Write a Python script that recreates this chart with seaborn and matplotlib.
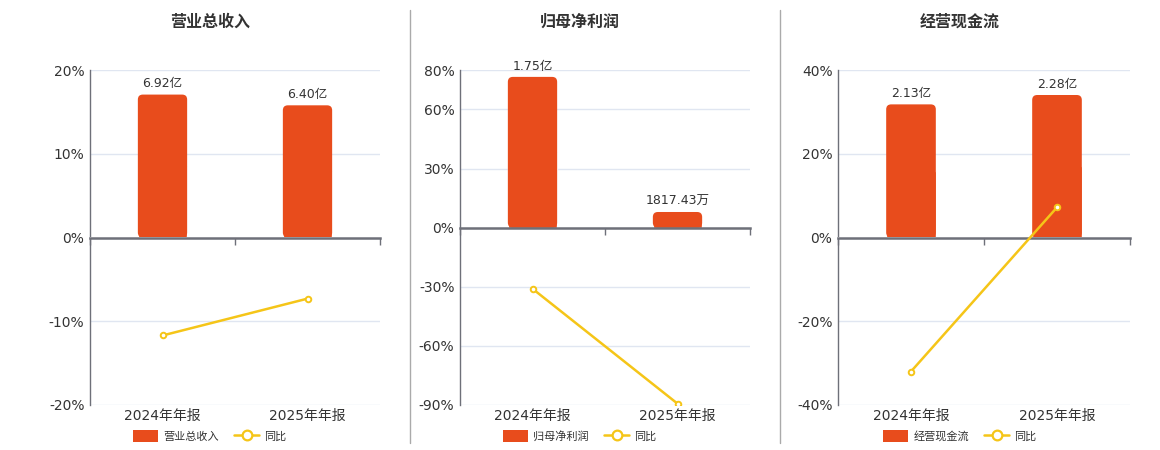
import seaborn as sns
import matplotlib.pyplot as plt
from matplotlib.patches import FancyBboxPatch, Patch
from matplotlib.lines import Line2D

# Data
periods = ['2024年年报', '2025年年报']

titles = ['营业总收入', '归母净利润', '经营现金流']

# bar values in 亿
revenue = [6.92, 6.40]
net_profit = [1.75, 0.181743]
cash_flow = [2.13, 2.28]

bar_labels = [
    ['6.92亿', '6.40亿'],
    ['1.75亿', '1817.43万'],
    ['2.13亿', '2.28亿'],
]

# year-over-year change in %
revenue_yoy = [-11.7, -7.3]
net_profit_yoy = [-31.0, -89.3]
cash_flow_yoy = [-32.0, 7.2]

BAR_COLOR = '#E84C1C'
LINE_COLOR = '#F5C518'
AXIS_COLOR = '#6E7079'
GRID_COLOR = '#E0E6F1'
TEXT_COLOR = '#333333'

sns.set_style('white')
plt.rcParams['font.family'] = ['DejaVu Sans', 'Noto Sans CJK SC']

W, H = 1160, 450


def panel(fig, rect, values, yoy, labels, ylim, yticks, bar_top, title_x, title):
    ax = fig.add_axes(rect)
    ax.set_ylim(*ylim)
    ax.set_yticks(yticks)
    ax.set_yticklabels([f'{t}%' for t in yticks])
    ax.grid(axis='y', color=GRID_COLOR, linewidth=1)
    ax.set_axisbelow(True)
    for side in ['top', 'right', 'bottom']:
        ax.spines[side].set_visible(False)
    ax.spines['left'].set_color(AXIS_COLOR)
    ax.spines['left'].set_linewidth(1)
    ax.tick_params(axis='y', length=0, labelsize=10, labelcolor=TEXT_COLOR, pad=4)
    ax.tick_params(axis='x', length=0, labelsize=10, labelcolor=TEXT_COLOR, pad=3)

    # bars on their own scale, zero aligned with 0%
    axb = ax.twinx()
    k = bar_top / ylim[1]
    axb.set_ylim(ylim[0] * k, ylim[1] * k)
    sns.barplot(x=periods, y=values, ax=axb, color=BAR_COLOR, width=0.34,
                saturation=1)
    axb.axis('off')
    axb.bar_label(axb.containers[0], labels=labels, padding=3, fontsize=9,
                  color=TEXT_COLOR)

    ax.set_xlim(-0.5, 1.5)

    # rounded tops
    ax_w = rect[2] * W
    ax_h = rect[3] * H
    x_per_px = 2.0 / ax_w
    y_per_px = (axb.get_ylim()[1] - axb.get_ylim()[0]) / ax_h
    r = 5 * x_per_px
    for p in list(axb.patches):
        x, w, h = p.get_x(), p.get_width(), p.get_height()
        fb = FancyBboxPatch((x, 0), w, h,
                            boxstyle=f'round,pad=0,rounding_size={r}',
                            mutation_aspect=y_per_px / x_per_px,
                            facecolor=BAR_COLOR, edgecolor='none')
        axb.add_patch(fb)
        p.set_height(h * 0.5)

    # yoy line on top of the bars
    axl = ax.twinx()
    axl.set_ylim(*ylim)
    sns.pointplot(x=periods, y=yoy, ax=axl, color=LINE_COLOR, markers='o',
                  linestyles='-', errorbar=None)
    for ln in axl.lines:
        ln.set_linewidth(1.8)
        ln.set_markersize(4)
        ln.set_markerfacecolor('white')
        ln.set_markeredgewidth(1.4)
        ln.set_zorder(5)
    axl.axis('off')
    axl.set_xlim(-0.5, 1.5)

    # zero axis with boundary ticks, drawn over the bars
    frac = -ylim[0] / (ylim[1] - ylim[0])
    zx = axl.secondary_xaxis(frac)
    zx.set_alignment('bottom')
    zx.set_xticks([-0.5, 0.5, 1.5])
    zx.set_xticklabels([])
    zx.tick_params(length=5, width=1, color=AXIS_COLOR, direction='out')
    for side in ['bottom', 'top']:
        zx.spines[side].set_color(AXIS_COLOR)
        zx.spines[side].set_linewidth(1.8)

    fig.text(title_x / W, 1 - 22 / H, title, ha='center', va='center',
             fontsize=11.5, fontweight='bold', color=TEXT_COLOR)

    handles = [
        Patch(facecolor=BAR_COLOR, edgecolor='none', label=title),
        Line2D([0], [0], color=LINE_COLOR, linewidth=1.8, marker='o',
               markersize=7, markerfacecolor='white', markeredgewidth=1.6,
               label='同比'),
    ]
    fig.legend(handles=handles, loc='center', ncol=2, frameon=False,
               bbox_to_anchor=(title_x / W, 1 - 436 / H), fontsize=8,
               handlelength=2.2, handleheight=1.3, handletextpad=0.5,
               columnspacing=1.4, labelcolor=TEXT_COLOR)
    return ax


fig = plt.figure(figsize=(W / 100, H / 100), dpi=100)

bottom = 1 - 405 / H
height = (405 - 70) / H

panel(fig, [90 / W, bottom, 290 / W, height], revenue, revenue_yoy,
      bar_labels[0], (-20, 20), [-20, -10, 0, 10, 20], 8.11, 210, titles[0])
panel(fig, [460 / W, bottom, 290 / W, height], net_profit, net_profit_yoy,
      bar_labels[1], (-90, 80), [-90, -60, -30, 0, 30, 60, 80], 1.83, 580,
      titles[1])
panel(fig, [838 / W, bottom, 292 / W, height], cash_flow, cash_flow_yoy,
      bar_labels[2], (-40, 40), [-40, -20, 0, 20, 40], 2.68, 960, titles[2])

# separators between panels
for sx in [410, 780]:
    fig.add_artist(Line2D([sx / W, sx / W], [1 - 10 / H, 1 - 443 / H],
                          color='#AAAAAA', linewidth=1))

fig.savefig('out.png', dpi=100)
